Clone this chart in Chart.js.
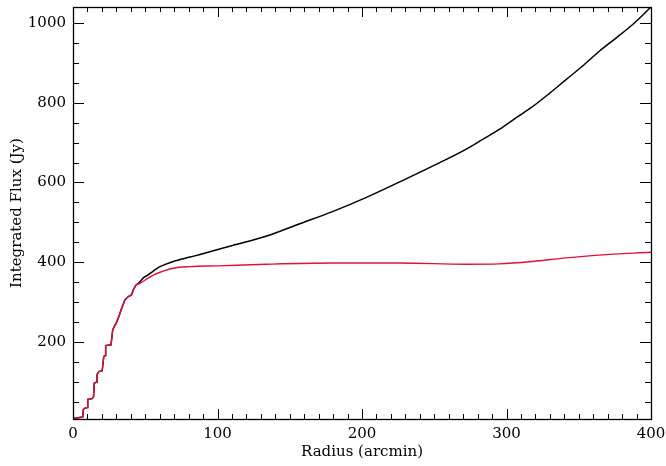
<!DOCTYPE html>
<html>
<head>
<meta charset="utf-8">
<script src="https://cdn.jsdelivr.net/npm/chart.js@4/dist/chart.umd.min.js"></script>
<style>
html,body{margin:0;padding:0;background:#fff;}
#wrap{width:666px;height:466px;position:relative;}
</style>
</head>
<body>
<div id="wrap"><canvas id="c" width="666" height="466"></canvas></div>
<script>
// Shared stepped inner part (radius in arcmin, integrated flux in Jy)
const innerRadius = [0, 6.7, 7.2, 8.3, 9.8, 10.2, 13.2, 14.2, 14.7, 16.2, 16.6, 17.9, 20.2, 21.3, 22.4, 22.6, 26.3, 27.5, 30.2, 32.1, 33.7, 36, 38.3, 40.5, 41.7, 43.6];
const innerFlux   = [8, 12, 31, 34, 36, 56, 58, 62, 97, 99, 118, 126, 128, 164, 166, 191, 193, 231, 250, 268, 285, 306, 314, 318, 331, 343];

// Total (black) curve, outer part
const totalRadius = [46.4, 48.7, 51, 55.6, 57.9, 60.2, 69.4, 81, 87.3, 110.4, 133.5, 156.5, 179.6, 202.7, 225.8, 248.8, 271.9, 283.5, 295, 306.5, 318, 329.6, 341.2, 352.7, 364.2, 375.8, 387.3, 400];
const totalFlux   = [351, 361, 366, 378, 384, 389, 402, 413, 419, 442, 465, 496, 527, 562, 601, 641, 683, 708, 733, 762, 790, 823, 858, 892, 929, 962, 996, 1040];

// Background-subtracted (red) curve, outer part
const redRadius = [46.4, 51, 55.6, 60.2, 69.4, 81, 100, 133.5, 179.6, 225.8, 271.9, 295, 318, 341.2, 364.2, 400];
const redFlux   = [347, 358, 368, 375, 385, 389, 391, 395, 398, 398, 395, 396, 402, 411, 418, 425];

const xMin = 0, xMax = 400, yMin = 7, yMax = 1040;
const xMajor = [0, 100, 200, 300, 400];
const yMajor = [200, 400, 600, 800, 1000];

function pts(rs, fs){ return rs.map((r,i)=>({x:r, y:fs[i]})); }
const innerPts = pts(innerRadius, innerFlux);
const lastInner = innerPts[innerPts.length - 1];
const blackOuter = [lastInner].concat(pts(totalRadius, totalFlux));
const redOuter = [lastInner].concat(pts(redRadius, redFlux));

const FONT = "'DejaVu Serif', 'Liberation Serif', serif";
const RED = '#e0103c';

const framePlugin = {
  id: 'frame',
  afterDatasetsDraw(chart){
    const {ctx, chartArea:a, scales:{x, y}} = chart;
    ctx.save();
    ctx.strokeStyle = '#000';
    ctx.lineWidth = 1;
    ctx.beginPath();
    for (let v = xMin; v <= xMax; v += 10){
      const px = Math.round(x.getPixelForValue(v)) + 0.5;
      const len = (v % 100 === 0) ? 10 : 5;
      ctx.moveTo(px, a.bottom); ctx.lineTo(px, a.bottom - len);
      ctx.moveTo(px, a.top); ctx.lineTo(px, a.top + len);
    }
    for (let v = 50; v <= yMax; v += 50){
      const py = Math.round(y.getPixelForValue(v)) + 0.5;
      const len = (v % 200 === 0) ? 11 : 6;
      ctx.moveTo(a.left, py); ctx.lineTo(a.left + len, py);
      ctx.moveTo(a.right, py); ctx.lineTo(a.right - len, py);
    }
    ctx.stroke();
    ctx.lineWidth = 1.3;
    ctx.strokeRect(Math.round(a.left)+0.5, Math.round(a.top)+0.5, Math.round(a.right-a.left), Math.round(a.bottom-a.top));
    ctx.restore();
  }
};

const common = { pointRadius: 0, fill: false };

new Chart(document.getElementById('c'), {
  type: 'line',
  data: {
    datasets: [
      Object.assign({ data: innerPts, borderColor: RED, borderWidth: 1.4, tension: 0 }, common),
      Object.assign({ data: redOuter, borderColor: RED, borderWidth: 1.4, cubicInterpolationMode: 'monotone' }, common),
      Object.assign({ data: innerPts, borderColor: '#000', borderWidth: 1.5, tension: 0 }, common),
      Object.assign({ data: blackOuter, borderColor: '#000', borderWidth: 1.5, cubicInterpolationMode: 'monotone' }, common)
    ]
  },
  options: {
    responsive: false,
    animation: false,
    events: [],
    layout: { padding: { left: 0, right: 15, top: 7, bottom: 0 } },
    plugins: { legend: { display: false }, tooltip: { enabled: false } },
    scales: {
      x: {
        type: 'linear', min: xMin, max: xMax,
        grid: { display: false, drawTicks: false },
        border: { display: false },
        afterBuildTicks(s){ s.ticks = xMajor.map(v=>({value:v})); },
        afterFit(s){ s.height = 47; s.paddingLeft = 0; s.paddingRight = 0; s.paddingTop = 0; s.paddingBottom = 0; },
        ticks: { color: '#000', padding: 6, maxRotation: 0, font: { family: FONT, size: 15 }, callback: v => String(v) },
        title: { display: true, text: 'Radius (arcmin)', color: '#000', padding: { top: 0, bottom: 5 }, font: { family: FONT, size: 15 } }
      },
      y: {
        type: 'linear', min: yMin, max: yMax,
        grid: { display: false, drawTicks: false },
        border: { display: false },
        afterBuildTicks(s){ s.ticks = yMajor.map(v=>({value:v})); },
        afterFit(s){ s.width = 73; s.paddingTop = 0; s.paddingBottom = 0; s.paddingLeft = 0; s.paddingRight = 0; },
        ticks: { color: '#000', padding: 7, font: { family: FONT, size: 15 }, callback: v => String(v) },
        title: { display: true, text: 'Integrated Flux (Jy)', color: '#000', padding: { top: 8, bottom: 0 }, font: { family: FONT, size: 15 } }
      }
    }
  },
  plugins: [framePlugin]
});
</script>
</body>
</html>
